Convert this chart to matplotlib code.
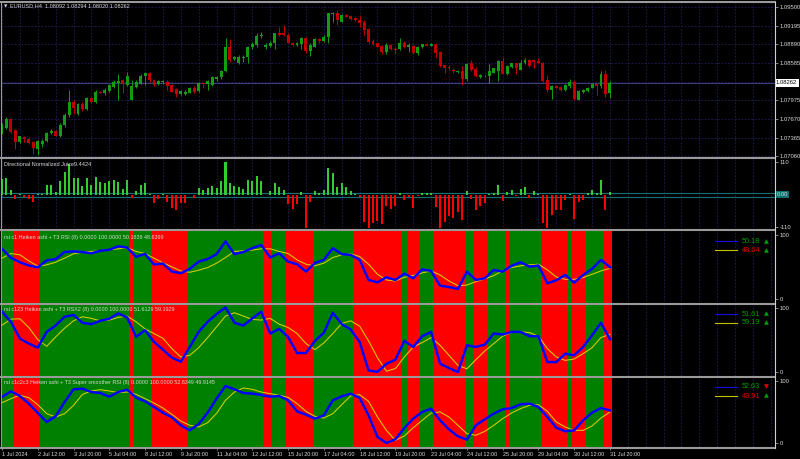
import numpy as np
import matplotlib
matplotlib.use("Agg")
import matplotlib.pyplot as plt
from matplotlib.lines import Line2D

plt.rcParams['font.family'] = ['Liberation Sans', 'DejaVu Sans']

# ---- EURUSD H4, 1 Jul 2024 .. 31 Jul 2024 ----
open_ = [1.0744, 1.0753, 1.0768, 1.0749, 1.0729, 1.0738, 1.0735, 1.0729, 1.0719, 1.0727,
         1.0731, 1.0744, 1.0748, 1.0740, 1.0757, 1.0773, 1.0795, 1.0776, 1.0792, 1.0784,
         1.0802, 1.0795, 1.0812, 1.0809, 1.0813, 1.0820, 1.0826, 1.0831, 1.0823, 1.0799,
         1.0820, 1.0825, 1.0837, 1.0843, 1.0831, 1.0825, 1.0827, 1.0828, 1.0822, 1.0816,
         1.0808, 1.0808, 1.0810, 1.0818, 1.0813, 1.0826, 1.0825, 1.0823, 1.0832, 1.0835,
         1.0846, 1.0885, 1.0865, 1.0859, 1.0867, 1.0868, 1.0885, 1.0888, 1.0903, 1.0884,
         1.0887, 1.0892, 1.0907, 1.0907, 1.0904, 1.0892, 1.0888, 1.0889, 1.0899, 1.0879,
         1.0885, 1.0897, 1.0895, 1.0901, 1.0939, 1.0940, 1.0926, 1.0937, 1.0935, 1.0932,
         1.0929, 1.0926, 1.0914, 1.0894, 1.0891, 1.0886, 1.0876, 1.0888, 1.0882, 1.0881,
         1.0892, 1.0885, 1.0887, 1.0875, 1.0884, 1.0889, 1.0887, 1.0889, 1.0877, 1.0855,
         1.0852, 1.0847, 1.0844, 1.0846, 1.0832, 1.0858, 1.0849, 1.0835, 1.0837, 1.0837,
         1.0843, 1.0846, 1.0862, 1.0840, 1.0852, 1.0858, 1.0848, 1.0858, 1.0863, 1.0863,
         1.0862, 1.0858, 1.0831, 1.0814, 1.0821, 1.0820, 1.0814, 1.0821, 1.0828, 1.0799,
         1.0811, 1.0813, 1.0818, 1.0825, 1.0821, 1.0840, 1.08092]
high = [1.0760, 1.0770, 1.0769, 1.0751, 1.0740, 1.0740, 1.0738, 1.0732, 1.0733, 1.0735,
        1.0746, 1.0751, 1.0750, 1.0761, 1.0777, 1.0815, 1.0798, 1.0793, 1.0795, 1.0803,
        1.0803, 1.0814, 1.0813, 1.0818, 1.0824, 1.0831, 1.0840, 1.0833, 1.0844, 1.0831,
        1.0831, 1.0840, 1.0844, 1.0844, 1.0833, 1.0831, 1.0831, 1.0831, 1.0825, 1.0818,
        1.0815, 1.0814, 1.0820, 1.0821, 1.0828, 1.0828, 1.0831, 1.0837, 1.0838, 1.0848,
        1.0899, 1.0897, 1.0870, 1.0871, 1.0871, 1.0886, 1.0893, 1.0908, 1.0909, 1.0891,
        1.0894, 1.0908, 1.0917, 1.0920, 1.0907, 1.0893, 1.0893, 1.0901, 1.0901, 1.0891,
        1.0899, 1.0900, 1.0904, 1.0941, 1.0942, 1.0945, 1.0938, 1.0938, 1.0936, 1.0933,
        1.0937, 1.0929, 1.0915, 1.0897, 1.0892, 1.0888, 1.0892, 1.0889, 1.0885, 1.0900,
        1.0895, 1.0892, 1.0889, 1.0886, 1.0890, 1.0891, 1.0891, 1.0892, 1.0878, 1.0856,
        1.0855, 1.0850, 1.0847, 1.0853, 1.0858, 1.0864, 1.0852, 1.0840, 1.0839, 1.0857,
        1.0851, 1.0863, 1.0869, 1.0855, 1.0859, 1.0859, 1.0863, 1.0866, 1.0865, 1.0864,
        1.0866, 1.0860, 1.0839, 1.0822, 1.0822, 1.0821, 1.0824, 1.0832, 1.0831, 1.0815,
        1.0816, 1.0819, 1.0826, 1.0826, 1.0846, 1.0848, 1.08294]
low = [1.0743, 1.0751, 1.0744, 1.0718, 1.0728, 1.0729, 1.0726, 1.0710, 1.0709, 1.0721,
       1.0729, 1.0743, 1.0739, 1.0738, 1.0754, 1.0770, 1.0776, 1.0773, 1.0781, 1.0782,
       1.0793, 1.0793, 1.0809, 1.0807, 1.0811, 1.0817, 1.0799, 1.0809, 1.0821, 1.0799,
       1.0817, 1.0824, 1.0822, 1.0828, 1.0821, 1.0822, 1.0825, 1.0815, 1.0811, 1.0803,
       1.0806, 1.0806, 1.0809, 1.0810, 1.0811, 1.0818, 1.0815, 1.0821, 1.0830, 1.0832,
       1.0844, 1.0860, 1.0863, 1.0857, 1.0860, 1.0858, 1.0882, 1.0885, 1.0900, 1.0881,
       1.0885, 1.0882, 1.0903, 1.0903, 1.0891, 1.0887, 1.0887, 1.0881, 1.0875, 1.0870,
       1.0884, 1.0892, 1.0893, 1.0892, 1.0926, 1.0921, 1.0925, 1.0933, 1.0929, 1.0927,
       1.0918, 1.0904, 1.0892, 1.0888, 1.0884, 1.0874, 1.0874, 1.0880, 1.0873, 1.0880,
       1.0883, 1.0877, 1.0874, 1.0871, 1.0883, 1.0886, 1.0886, 1.0866, 1.0852, 1.0843,
       1.0848, 1.0843, 1.0843, 1.0822, 1.0829, 1.0846, 1.0835, 1.0834, 1.0836, 1.0826,
       1.0842, 1.0829, 1.0840, 1.0839, 1.0851, 1.0840, 1.0847, 1.0857, 1.0852, 1.0850,
       1.0857, 1.0828, 1.0811, 1.0800, 1.0817, 1.0813, 1.0813, 1.0818, 1.0799, 1.0798,
       1.0810, 1.0812, 1.0817, 1.0806, 1.0818, 1.0803, 1.08020]
close = [1.0755, 1.0768, 1.0746, 1.0729, 1.0739, 1.0735, 1.0728, 1.0720, 1.0732, 1.0732,
         1.0744, 1.0748, 1.0740, 1.0758, 1.0774, 1.0795, 1.0785, 1.0791, 1.0784, 1.0802,
         1.0795, 1.0812, 1.0810, 1.0815, 1.0822, 1.0828, 1.0829, 1.0824, 1.0837, 1.0821,
         1.0828, 1.0837, 1.0843, 1.0831, 1.0822, 1.0829, 1.0829, 1.0821, 1.0812, 1.0808,
         1.0813, 1.0812, 1.0818, 1.0811, 1.0826, 1.0824, 1.0829, 1.0835, 1.0836, 1.0846,
         1.0885, 1.0864, 1.0868, 1.0869, 1.0869, 1.0885, 1.0889, 1.0903, 1.0905, 1.0888,
         1.0892, 1.0907, 1.0904, 1.0904, 1.0892, 1.0888, 1.0892, 1.0899, 1.0879, 1.0888,
         1.0897, 1.0894, 1.0901, 1.0940, 1.0941, 1.0928, 1.0937, 1.0934, 1.0930, 1.0928,
         1.0924, 1.0912, 1.0893, 1.0889, 1.0885, 1.0877, 1.0888, 1.0881, 1.0880, 1.0892,
         1.0885, 1.0888, 1.0875, 1.0885, 1.0889, 1.0887, 1.0889, 1.0875, 1.0854, 1.0851,
         1.0851, 1.0845, 1.0846, 1.0832, 1.0857, 1.0848, 1.0837, 1.0839, 1.0838, 1.0846,
         1.0850, 1.0862, 1.0841, 1.0853, 1.0858, 1.0850, 1.0859, 1.0864, 1.0853, 1.0861,
         1.0858, 1.0829, 1.0814, 1.0821, 1.0818, 1.0814, 1.0823, 1.0828, 1.0800, 1.0813,
         1.0815, 1.0818, 1.0825, 1.0821, 1.0840, 1.0808, 1.08262]

price_ticks = [1.09500, 1.09195, 1.08890, 1.08585, 1.08280, 1.07975, 1.07670, 1.07365, 1.07060]

# Directional Normalized Juice histogram
juice = [52.5, 55, 15, -13, 2, -7, -13, -26, 2, 2,
         32, 32, 10, 47, 75, 105, 58, 57, 29, 58,
         32, 60, 43, 41, 47, 51, 43, 21, 49, -10,
         13, 32, 38, 2, -28, -13, 2, -26, -43, -52,
         -28, -28, -2, -10, 23, 15, 23, 29, 23, 47,
         109, 40, 29, 27, 21, 51, 45, 63, 47, -2,
         13, 38, 27, 17, -32, -47, -32, 10, -111, -26,
         13, 7, 17, 91, 72, 27, 41, 25, 13, 2,
         -7, -92, -111, -95, -89, -98, -39, -47, -37, 7,
         -16, -7, -45, -3, 7, 7, 7, -41, -111, -92,
         -73, -77, -58, -86, 12, -13, -52, -39, -28, 3,
         7, 32, -21, 10, 15, -5, 19, 25, -10, 13,
         2, -95, -111, -67, -52, -52, -18, 2, -83, -26,
         -18, 7, 15, 7, 49, -52, 9.4]

# trend background of the rsi windows: (+1 green / -1 red, number of bars)
trend_runs = [(1, 3), (-1, 6), (1, 20), (-1, 1), (1, 4), (-1, 8), (1, 17), (-1, 2), (1, 3),
              (-1, 6), (1, 9), (-1, 11), (1, 1), (-1, 3), (1, 3), (-1, 7), (1, 2), (-1, 3),
              (1, 4), (-1, 1), (1, 7), (-1, 6), (1, 1), (-1, 3), (1, 4), (-1, 2)]

# rsi values, every second bar
rsi1_main = [79, 65, 58, 53, 50, 61, 63, 74, 75, 74, 72, 76, 77.5, 83, 81, 66.5, 71, 54.5, 56, 43.5,
             41, 47.7, 59, 63, 70.7, 90.6, 70.7, 74, 80, 85, 65.5, 72, 59, 55, 43.5, 57, 61.8, 80,
             70.7, 69.6, 61.8, 30.4, 26.7, 34.6, 30.4,
             40.3, 33, 47, 44.5, 21.5, 19.4, 16.3, 43.5, 30.4, 33, 46, 43.5, 52.4, 58, 51.3, 52.9,
             25.2, 29.9, 38.2, 26.2, 38.2, 47.7, 61.8, 50.2]
rsi1_sig = [64.4, 71.7, 69.6, 60.2, 51.8, 54, 58.1, 64.4, 71.2, 73.8, 74.9, 75.9, 77.5, 79, 81,
            74.9, 71.7, 64.4, 57.1, 50.8, 44.5, 42.4, 45.6, 49.8, 56.6, 65.4, 74.9, 75.9, 77, 79,
            79, 74.9, 71.7, 61.8, 55, 52.4, 56.6, 65.4, 69.6, 71.2, 67, 55, 39.3, 30.4, 28.8,
            34.6, 37.2, 41.4, 44.5, 38.2, 28.8, 21.5, 22.5, 27.8, 32, 37.2, 45, 49.8, 52.4, 54,
            55, 46.1, 35.1, 31.4, 31.4, 34.1, 39.3, 44.5, 48.6]
rsi2_main = [94.3, 78.6, 52.6, 44.8, 38.5, 63, 72.9, 86.5, 89.1, 77.1, 75, 80.2, 83.3, 91.7, 85.4,
             55.2, 65.6, 47.4, 35.4, 22.9, 16.7, 39.6, 63, 78.6, 90.6, 101, 77.1, 72.9, 83.9, 94.3,
             60.4, 67.7, 55.2, 30.2, 30.2, 49, 61.5, 92.7, 75, 66.7, 47.4, 3.1, 1, 13.5, 19.8,
             49, 39.6, 56.3, 63, 13.5, 6.8, 0.5, 42.2, 39.6, 43.2, 60.4, 58.9, 63, 63, 56.3, 56.3,
             16.2, 16.2, 29.2, 26.6, 39.6, 57.8, 77.1, 51.6]
rsi2_sig = [73.4, 82.8, 83.3, 69.8, 51, 40.6, 55.2, 68.7, 80.2, 86.5, 83.9, 80.2, 81.3, 85.4, 87.5,
            78.6, 67.7, 60.4, 53.1, 37, 24, 26.6, 38.5, 54.2, 70.8, 87.5, 92.7, 87.5, 82.3, 81.3,
            83.9, 75, 69.8, 60.4, 44.8, 35.4, 45.8, 60.4, 76, 80.2, 71.9, 49, 22.9, 2, 6,
            24, 39.6, 46.4, 54.2, 42.2, 26.6, 10.9, 5.7, 19.8, 33.3, 44.8, 56.3, 62, 63, 62,
            56.3, 37, 24, 18.8, 20.8, 29.2, 38.5, 54.2, 59.2]
rsi3_main = [74.2, 83.3, 75.8, 63.4, 48.4, 33.9, 43, 66.1, 86.5, 87.6, 82.2, 80.6, 74.7, 82.2, 86,
             73.1, 67.2, 58.1, 48.9, 41.4, 28.5, 20.4, 30.6, 48.9, 71.5, 91.9, 86.5, 80.6, 79.6,
             77.4, 74.7, 75.8, 68.8, 51.1, 45.7, 39.2, 44.6, 68.8, 75.3, 79.6, 72.6, 44.6, 9.7, 0, 6,
             24.2, 39.2, 50, 55.4, 36.5, 22, 10.7, 5.4, 28.5, 38.2, 47.3, 54.3, 56.4, 62.4, 63.4,
             58.1, 41.9, 24.7, 18.8, 20.4, 36.5, 48.9, 56.4, 52.6]
rsi3_sig = [65, 71.5, 76.9, 73.1, 61.8, 47.3, 41.9, 47.3, 60.7, 78.5, 83.9, 86, 83.9, 81.2, 82.2,
            78.5, 71.5, 64.5, 56.4, 46.2, 35.5, 28.5, 25.8, 32.8, 47.8, 68.8, 82.2, 88.7, 86.5, 82.2,
            79.6, 76.9, 73.6, 63.4, 51.1, 43, 40.3, 47.3, 61.8, 75.8, 78, 67.2, 41.9, 20.4, 4.3,
            11.3, 24.7, 36.5, 48.4, 50, 41.9, 28.5, 15.1, 12.4, 18.8, 28.5, 39.2, 48.4, 55.4, 60.7,
            61.8, 51.1, 33.9, 25.8, 20.4, 20.4, 27.4, 40.3, 49.9]

time_labels = ["1 Jul 2024", "2 Jul 12:00", "3 Jul 20:00", "5 Jul 04:00", "8 Jul 12:00",
               "9 Jul 20:00", "11 Jul 04:00", "12 Jul 12:00", "15 Jul 20:00", "17 Jul 04:00",
               "18 Jul 12:00", "19 Jul 20:00", "23 Jul 04:00", "24 Jul 12:00", "25 Jul 20:00",
               "29 Jul 04:00", "30 Jul 12:00", "31 Jul 20:00"]

# ---- layout (pixels) ----
W, H = 800, 459
BAR_PX = 4.47
X0 = 2.0
GRID = '#20205e'
SEP = '#9a9a9a'
TXT = '#d8d8d8'
BULL = '#119c11'
BEAR = '#c00000'

fig = plt.figure(figsize=(W / 100, H / 100), dpi=100, facecolor='black')
bars = np.arange(len(close))
rsi_bars = np.arange(0, len(close), 2)


def panel(y0, y1, ylim):
    ax = fig.add_axes([1 / W, 1 - y1 / H, 773.5 / W, (y1 - y0) / H])
    ax.set_facecolor('black')
    ax.set_xlim((1 - X0) / BAR_PX, (774.5 - X0) / BAR_PX)
    ax.set_ylim(*ylim)
    for s in ax.spines.values():
        s.set_visible(False)
    ax.tick_params(axis='x', bottom=False, labelbottom=False)
    ax.yaxis.tick_right()
    ax.tick_params(axis='y', colors=SEP, labelcolor=TXT, labelsize=4.2, length=2.5,
                   width=0.6, pad=1.2)
    ax.vlines(np.arange(0, 173, 4), ylim[0], ylim[1], color=GRID, lw=0.6,
              linestyles=(0, (2, 2)), zorder=0)
    return ax


def ptext(x, y, s, **kw):
    kw.setdefault('va', 'center')
    return fig.text(x / W, 1 - y / H, s, **kw)


# ---- price window ----
ax = panel(3, 157.5, (1.070436, 1.095655))
ax.hlines(price_ticks, ax.get_xlim()[0], ax.get_xlim()[1], color=GRID, lw=0.6,
          linestyles=(0, (2, 2)), zorder=0)
ax.axhline(close[-1], color='#3c3c78', lw=0.8, zorder=1)
o = np.array(open_)
c = np.array(close)
cols = [BULL if cc >= oo else BEAR for oo, cc in zip(o, c)]
ax.vlines(bars, low, high, color=cols, lw=0.7, zorder=2)
body_lo = np.minimum(o, c)
body_h = np.maximum(np.abs(c - o), 0.00012)
ax.bar(bars, body_h, bottom=body_lo, width=0.66, color=cols, lw=0, zorder=3)
shown = [p for p in price_ticks if abs(p - 1.08280) > 1e-6]
ax.set_yticks(shown)
ax.set_yticklabels([f"{p:.5f}" for p in shown])
ax.text(1 + 1.5 / 773.5, close[-1], f"{close[-1]:.5f}", transform=ax.get_yaxis_transform(),
        ha='left', va='center', fontsize=4.2, color='black',
        bbox=dict(boxstyle='square,pad=0.25', fc='white', ec='white', lw=0))
ptext(4, 6, "\u25bc", fontsize=3.2, color=TXT, family='DejaVu Sans')
ptext(10, 6, "EURUSD,H4  1.08092 1.08294 1.08020 1.08262", fontsize=4.0, color=TXT)

# ---- juice window ----
ax = panel(159, 229.5, (-116.8, 120.2))
ax.axhline(6.5, color='#167070', lw=0.8, zorder=1)
ax.axhline(-8.5, color='#167070', lw=0.8, zorder=1)
jcols = ['#33cc33' if v > 0 else '#ff0000' for v in juice]
ax.bar(bars, juice, width=0.45, color=jcols, lw=0, zorder=2)
ax.set_yticks([110, -110])
ax.set_yticklabels(["110", "-110"])
ax.text(1 + 2 / 773.5, 0, "0.00", transform=ax.get_yaxis_transform(), ha='left', va='center',
        fontsize=4.2, color=TXT,
        bbox=dict(boxstyle='square,pad=0.15', fc='#107070', ec='#107070', lw=0))
ptext(4, 164, "Directional Normalized Juice9.4424", fontsize=4.0, color=TXT)

# ---- rsi windows ----
rsi_sets = [
    (231, 303.5, (-6.3, 106.8), rsi1_main, rsi1_sig,
     "rsi c1 Heiken ashi + T3 RSI (8) 0.0000 100.0000 50.1838 48.6399", 237,
     [("50.18", '#00a000', "\u25b2", '#00a000'), ("48.64", '#e00000', "\u25b2", '#00a000')], 241.3),
    (305, 376.5, (-6.25, 104.7), rsi2_main, rsi2_sig,
     "rsi c123 Heiken ashi + T3 RSX2 (8) 0.0000 100.0000 51.6129 59.1929", 309.5,
     [("51.61", '#00a000', "\u25b2", '#00a000'), ("59.19", '#00a000', "\u25b2", '#00a000')], 314),
    (378, 447, (-6.45, 104.8), rsi3_main, rsi3_sig,
     "rsi c1c2c3 Heiken ashi + T3 Super smoother RSI (8) 0.0000 100.0000 52.6349 49.9145", 382.5,
     [("52.63", '#00a000', "\u25bc", '#e00000'), ("49.91", '#e00000', "\u25b2", '#00a000')], 387),
]

for y0, y1, ylim, main, sig, title, ty, legend, ly in rsi_sets:
    ax = panel(y0, y1, ylim)
    start = 0
    for sign, n in trend_runs:
        ax.axvspan(start - 0.5, start + n - 0.5, color='#008000' if sign > 0 else '#ff0000',
                   lw=0, zorder=1)
        start += n
    ax.plot(rsi_bars, sig, color='#d8cf00', lw=0.75, zorder=3)
    ax.plot(rsi_bars, main, color='#0000ff', lw=1.75, zorder=4, solid_joinstyle='round')
    ax.set_yticks([100, 0])
    ax.set_yticklabels(["100", "0"])
    ptext(4, ty, title, fontsize=3.9, color=TXT)
    for k, (val, vcol, tri, tcol) in enumerate(legend):
        yy = ly + k * 9
        lcol = '#1010e0' if k == 0 else '#c8c000'
        fig.add_artist(Line2D([715 / W, 737 / W], [1 - yy / H, 1 - yy / H], color=lcol, lw=0.8))
        ptext(742, yy, val, fontsize=5.2, color=vcol)
        ptext(764, yy, tri, fontsize=4.6, color=tcol, family='DejaVu Sans')
    last_ax = ax

# time axis under the last window
last_ax.tick_params(axis='x', bottom=True, labelbottom=True, colors=SEP, labelcolor=TXT,
                    labelsize=4.0, length=2.5, width=0.6, pad=0.8)
last_ax.set_xticks(np.arange(0, 8 * len(time_labels), 8))
last_ax.set_xticklabels(time_labels, ha='left')

# separators and frame
for yy in [2, 158.3, 230.3, 304.3, 377.3, 447.5]:
    fig.add_artist(Line2D([0, 775 / W], [1 - yy / H, 1 - yy / H], color=SEP, lw=1.5))
fig.add_artist(Line2D([774.8 / W, 774.8 / W], [1 - 2 / H, 1 - 447.5 / H], color='#cfcfcf', lw=0.8))
fig.add_artist(Line2D([0.6 / W, 0.6 / W], [1 - 2 / H, 1 - 447.5 / H], color=SEP, lw=0.8))

fig.savefig('out.png', dpi=100, facecolor='black')
